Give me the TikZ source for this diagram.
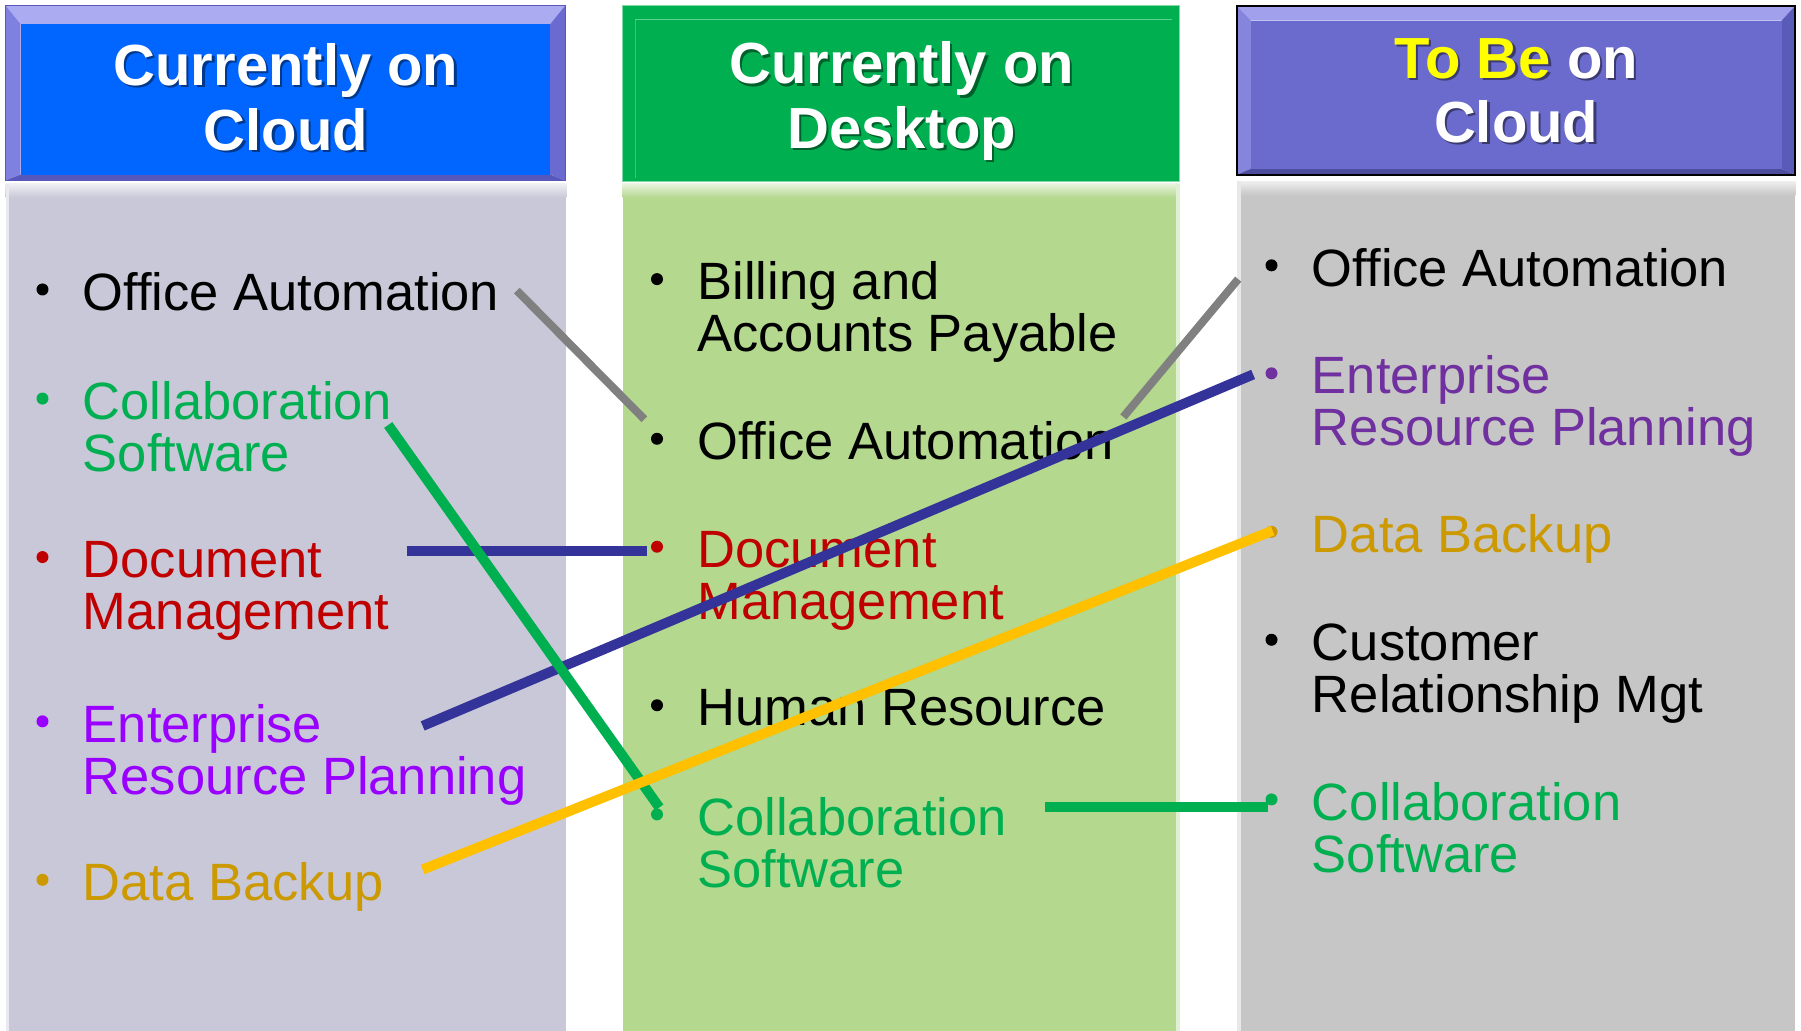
\documentclass[tikz,border=0pt]{standalone}
\usepackage{fontspec}
\setmainfont{Liberation Sans}
\usetikzlibrary{calc}
\definecolor{hblue}{HTML}{0066FF}
\definecolor{hbTop}{HTML}{ABABF2}
\definecolor{hbLeft}{HTML}{8080E0}
\definecolor{hbRight}{HTML}{6A6AD0}
\definecolor{hbBot}{HTML}{5858BC}
\definecolor{hgreen}{HTML}{00B050}
\definecolor{hgLine}{HTML}{5ED493}
\definecolor{hpurple}{HTML}{6B6BCD}
\definecolor{hpTop}{HTML}{A0A0EC}
\definecolor{hpLeft}{HTML}{8585DC}
\definecolor{hpRight}{HTML}{5A5AB8}
\definecolor{hpBot}{HTML}{4D4DA0}
\definecolor{bodyL}{HTML}{C8C8D8}
\definecolor{bodyM}{HTML}{B3D88E}
\definecolor{bodyR}{HTML}{C6C6C6}
\definecolor{tgreen}{HTML}{00B050}
\definecolor{tred}{HTML}{C00000}
\definecolor{tviolet}{HTML}{9900FF}
\definecolor{tpurple}{HTML}{7030A0}
\definecolor{tgold}{HTML}{CC9900}
\definecolor{tyellow}{HTML}{FFFF00}
\definecolor{lgray}{HTML}{808080}
\definecolor{lnavy}{HTML}{333399}
\definecolor{lgreen}{HTML}{00B050}
\definecolor{lyellow}{HTML}{FFC000}
\newcommand\twoline[2]{\vtop{\hbox{#1}\hbox{#2}}}
\newcommand\hdrtext[2]{\vtop{\halign{\hfil##\hfil\cr #1\cr #2\cr}}}
\begin{document}
\begin{tikzpicture}[x=1.1486pt,y=-1.1486pt,
  item/.style={anchor=base west, inner sep=0pt, font=\fontsize{52.5}{52}\selectfont},
  hdr/.style={anchor=base, inner sep=0pt, text=white, font=\bfseries\fontsize{58}{64.5}\selectfont},
  hdrshadow/.style={hdr, text=black, text opacity=0.45},
  bul/.style={circle, inner sep=0pt, minimum size=12pt},
  conn/.style={line width=10pt}]
\useasboundingbox (0,0) rectangle (1568,897.6);
\fill[white] (0,0) rectangle (1568,897.6);
% ---- bodies
\fill[bodyL] (5,160) rectangle (493,898);
\shade[top color=white!70!bodyL, bottom color=bodyL] (5,160) rectangle (493,172);
\fill[white!60!bodyL] (5,160) rectangle (8,898);
\fill[bodyM] (542,160) rectangle (1027,898);
\shade[top color=white!70!bodyM, bottom color=bodyM] (542,160) rectangle (1027,172);
\fill[white!60!bodyM] (1024,160) rectangle (1027,898);
\fill[bodyR] (1077,158) rectangle (1563,898);
\shade[top color=white!70!bodyR, bottom color=bodyR] (1077,158) rectangle (1563,170);
\fill[white!60!bodyR] (1077,158) rectangle (1080,898);
% ---- left header (bevel)
\fill[hbTop] (5,5) -- (492,5) -- (479,21) -- (18,21) -- cycle;
\fill[hbLeft] (5,5) -- (18,21) -- (18,152) -- (5,157) -- cycle;
\fill[hbRight] (492,5) -- (492,157) -- (479,152) -- (479,21) -- cycle;
\fill[hbBot] (5,157) -- (18,152) -- (479,152) -- (492,157) -- cycle;
\fill[hblue] (18,21) rectangle (479,152);
\draw[hbBot, line width=1pt] (5,5) rectangle (492,157);
% ---- middle header
\fill[hgreen] (542,5) rectangle (1027,158);
\draw[hgLine, line width=1.2pt] (553,17) -- (1020,17);
\draw[hgLine!60!hgreen, line width=1pt] (553,17) -- (553,155);
\draw[white!50!hgreen, line width=1pt] (542,5) rectangle (1027,158);
% ---- right header
\fill[hpTop] (1077,5) -- (1563,5) -- (1551,18) -- (1089,18) -- cycle;
\fill[hpLeft] (1077,5) -- (1089,18) -- (1089,147) -- (1077,152) -- cycle;
\fill[hpRight] (1563,5) -- (1563,152) -- (1551,147) -- (1551,18) -- cycle;
\fill[hpBot] (1077,152) -- (1089,147) -- (1551,147) -- (1563,152) -- cycle;
\fill[hpurple] (1089,18) rectangle (1551,147);
\draw[black, line width=2pt] (1077,5) rectangle (1563,152);
% ---- header texts
\node[hdrshadow] (hLs) at (251,76.5) {\hdrtext{Currently on}{Cloud}};
\node[hdr] (hL) at (249,74.6) {\hdrtext{Currently on}{Cloud}};
\node[hdrshadow] (hMs) at (787,75) {\hdrtext{Currently on}{Desktop}};
\node[hdr] (hM) at (785,73) {\hdrtext{Currently on}{Desktop}};
\node[hdrshadow] (hRs) at (1322,70) {\hdrtext{\textcolor{black}{To Be} on}{Cloud}};
\node[hdr] (hR) at (1320,68) {\hdrtext{\textcolor{tyellow}{To Be} on}{Cloud}};
% ---- left items
\node[bul, fill=black] (bL1) at (37,252) {};
\node[item] (tL1) at (72,270) {Office Automation};
\node[bul, fill=tgreen] (bL2) at (37,347) {};
\node[item, text=tgreen] (tL2) at (72,365) {\twoline{Collaboration}{Software}};
\node[bul, fill=tred] (bL3) at (37,485) {};
\node[item, text=tred] (tL3) at (72,503) {\twoline{Document}{Management}};
\node[bul, fill=tviolet] (bL4) at (37,628) {};
\node[item, text=tviolet] (tL4) at (72,646) {\twoline{Enterprise}{Resource Planning}};
\node[bul, fill=tgold] (bL5) at (37,766) {};
\node[item, text=tgold] (tL5) at (72,784) {Data Backup};
% ---- middle items
\node[bul, fill=black] (bM1) at (572,243) {};
\node[item] (tM1) at (607,261) {\twoline{Billing and}{Accounts Payable}};
\node[bul, fill=black] (bM2) at (572,382) {};
\node[item] (tM2) at (607,400) {Office Automation};
\node[bul, fill=tred] (bM3) at (572,476) {};
\node[item, text=tred] (tM3) at (607,494) {\twoline{Document}{Management}};
\node[bul, fill=black] (bM4) at (572,614) {};
\node[item] (tM4) at (607,632) {Human Resource};
\node[bul, fill=tgreen] (bM5) at (572,709) {};
\node[item, text=tgreen] (tM5) at (607,727) {\twoline{Collaboration}{Software}};
% ---- right items
\node[bul, fill=black] (bR1) at (1107,231) {};
\node[item] (tR1) at (1142,249) {Office Automation};
\node[bul, fill=tpurple] (bR2) at (1107,325) {};
\node[item, text=tpurple] (tR2) at (1142,343) {\twoline{Enterprise}{Resource Planning}};
\node[bul, fill=tgold] (bR3) at (1107,463) {};
\node[item, text=tgold] (tR3) at (1142,481) {Data Backup};
\node[bul, fill=black] (bR4) at (1107,557) {};
\node[item] (tR4) at (1142,575) {\twoline{Customer}{Relationship Mgt}};
\node[bul, fill=tgreen] (bR5) at (1107,696) {};
\node[item, text=tgreen] (tR5) at (1142,714) {\twoline{Collaboration}{Software}};
% ---- connector end points
\coordinate (g1a) at (450,253);
\coordinate (g1b) at (561,365);
\coordinate (g2a) at (978,363);
\coordinate (g2b) at (1078,243);
\coordinate (c1a) at (338,370);
\coordinate (c1b) at (574,703);
\coordinate (n1a) at (354,480);
\coordinate (n1b) at (563,480);
\coordinate (n2a) at (368,632);
\coordinate (n2b) at (1091,326);
\coordinate (y1a) at (368,757);
\coordinate (y1b) at (1108,462);
\coordinate (c2a) at (910,703);
\coordinate (c2b) at (1104,703);
% ---- connectors
\draw[conn, lgray, line width=8pt] (g1a) -- (g1b);
\draw[conn, lgray, line width=8pt] (g2a) -- (g2b);
\draw[conn, lnavy] (n1a) -- (n1b);
\draw[conn, lnavy] (n2a) -- (n2b);
\draw[conn, lgreen] (c1a) -- (c1b);
\draw[conn, lgreen] (c2a) -- (c2b);
\draw[conn, lyellow] (y1a) -- (y1b);
\end{tikzpicture}
\end{document}
